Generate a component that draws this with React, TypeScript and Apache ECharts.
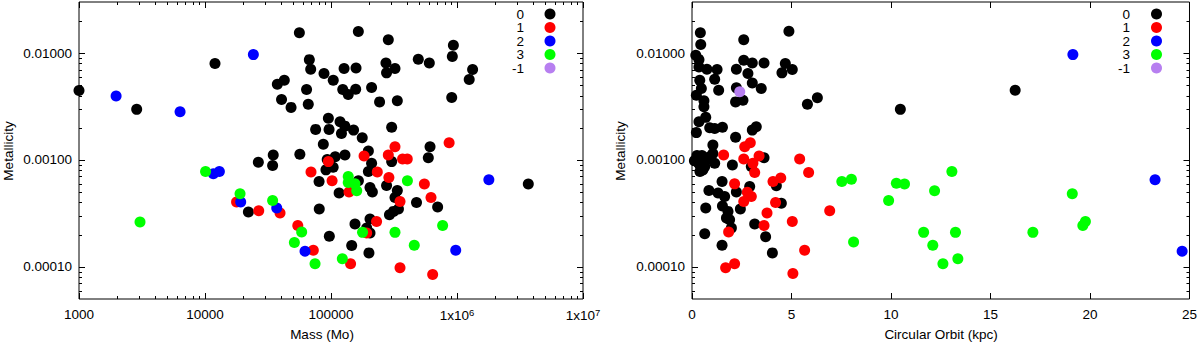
import React, { useEffect, useRef } from "react";
import * as echarts from "echarts";

// ---- classes ----
const classNames = ["0", "1", "2", "3", "-1"];
const classColors = ["#000000", "#ff0000", "#0000ff", "#00ff00", "#b77ff0"];

// ---- left panel: [mass (Mo), metallicity] ----
const leftClass0 = [
  [1000, 0.00446], [2870, 0.00297], [12000, 0.00796], [37500, 0.0051], [42600, 0.00557], [40500, 0.00368],
  [48200, 0.0031], [56100, 0.0155], [26500, 0.000953], [34800, 0.00111], [34400, 0.000885], [56600, 0.00113],
  [22100, 0.000326], [164800, 0.0159], [285000, 0.0133], [936000, 0.0118], [918000, 0.0093], [493000, 0.00873],
  [603000, 0.00807], [273000, 0.00807], [322000, 0.00715], [276000, 0.00652], [1330000, 0.007], [1250000, 0.00565],
  [908000, 0.00384], [67300, 0.00867], [69000, 0.00705], [88000, 0.00643], [104200, 0.00557], [127000, 0.00715],
  [158000, 0.00725], [124000, 0.00456], [137000, 0.00409], [157000, 0.00459], [210000, 0.00476], [243000, 0.00349],
  [336000, 0.00357], [64000, 0.00456], [66000, 0.00332], [95300, 0.00245], [75500, 0.00193], [96500, 0.00193],
  [118000, 0.00227], [129000, 0.00207], [121000, 0.00177], [151000, 0.0019], [177000, 0.00161], [303000, 0.00202],
  [86900, 0.0014], [611000, 0.00133], [592000, 0.00105], [198000, 0.00121], [210000, 0.00093], [198000, 0.00078],
  [108000, 0.00107], [129000, 0.00111], [93300, 0.00101], [104000, 0.000855], [91200, 0.000807], [303000, 0.000964],
  [165000, 0.000637], [80400, 0.000628], [204000, 0.000552], [213000, 0.0005], [276000, 0.000576], [116000, 0.00049],
  [336000, 0.000518], [322000, 0.000446], [477000, 0.0004], [702000, 0.000362], [343000, 0.000347], [291000, 0.000307],
  [80700, 0.000347], [204000, 0.00028], [155000, 0.000252], [204000, 0.000207], [97000, 0.000193], [146000, 0.000158],
  [200000, 0.000135], [3680000, 0.000594], [192000, 0.000231], [313000, 0.00033],
];
const leftClass1 = [
  [17800, 0.000403], [26700, 0.000335], [39400, 0.000318], [54500, 0.000243], [866000, 0.00145], [322000, 0.00133],
  [285000, 0.00111], [183000, 0.00109], [370000, 0.00102], [403000, 0.00102], [95300, 0.000964], [69400, 0.000769],
  [102000, 0.000637], [233000, 0.000769], [288000, 0.000685], [551000, 0.000594], [622000, 0.000446], [353000, 0.000408],
  [139000, 0.0005], [230000, 0.000266], [192000, 0.000207], [72400, 0.000143], [143000, 0.000107], [353000, 0.000098],
  [641000, 0.0000848],
];
const leftClass2 = [
  [1970, 0.00397], [6340, 0.00282], [24200, 0.00966], [11650, 0.000741], [13000, 0.000778], [19200, 0.000403],
  [37100, 0.000355], [62200, 0.00014], [1790000, 0.000652], [977000, 0.000143],
];
const leftClass3 = [
  [3050, 0.000262], [10100, 0.000778], [18970, 0.000482], [34400, 0.000418], [51200, 0.000169], [58500, 0.000212],
  [404000, 0.000637], [137000, 0.000698], [137000, 0.000614], [155000, 0.000597], [160000, 0.000514], [769000, 0.000244],
  [322000, 0.00021], [178000, 0.00021], [458000, 0.000159], [123000, 0.000119], [74700, 0.000107],
];
const leftClassM1: number[][] = [];

// ---- right panel: [circular orbit (kpc), metallicity] ----
const rightClass0 = [
  [0.42, 0.0155], [0.44, 0.012], [0.19, 0.00952], [0.35, 0.00867], [0.35, 0.00741], [0.75, 0.00705], [1.26, 0.007],
  [1.14, 0.00569], [1.34, 0.00449], [0.39, 0.00557], [0.47, 0.00466], [0.22, 0.00403], [0.6, 0.00357], [0.6, 0.00314],
  [0.69, 0.0025], [0.35, 0.00227], [0.22, 0.0018], [0.89, 0.002], [1.14, 0.00197], [1.53, 0.00202], [2.6, 0.0133],
  [2.23, 0.00705], [2.6, 0.00855], [3.03, 0.00807], [3.62, 0.00807], [2.81, 0.00643], [3.03, 0.00525], [3.48, 0.00466],
  [2.23, 0.00472], [2.19, 0.00349], [2.56, 0.00362], [4.87, 0.016], [4.69, 0.00796], [5.04, 0.007], [4.52, 0.00652],
  [5.8, 0.00332], [6.3, 0.00381], [3.23, 0.00204], [3.03, 0.0019], [2.19, 0.00163], [1.05, 0.00138], [0.35, 0.00107],
  [0.39, 0.000897], [0.55, 0.000807], [0.72, 0.001], [0.89, 0.00107], [1.05, 0.00115], [1.14, 0.00093], [0.64, 0.00087],
  [0.12, 0.00098], [0.25, 0.0011], [0.5, 0.0011], [0.4, 0.00078], [0.3, 0.00095],
  [2.03, 0.000897], [3.62, 0.00105], [2.98, 0.000867], [1.51, 0.000628], [2.9, 0.000564], [4.24, 0.000573],
  [0.85, 0.000518], [1.31, 0.00049], [1.64, 0.000455], [2.23, 0.0005], [4.49, 0.000394], [0.69, 0.000355],
  [1.53, 0.00037], [1.81, 0.00033], [1.73, 0.000286], [1.89, 0.000276], [2.43, 0.000347], [1.98, 0.000231],
  [3.15, 0.000252], [0.64, 0.000204], [3.7, 0.000191], [1.51, 0.000159], [4.04, 0.000135], [10.47, 0.00297],
  [16.24, 0.00449],
];
const rightClass1 = [
  [1.59, 0.00111], [2.65, 0.00133], [2.93, 0.00145], [2.6, 0.00102], [3.06, 0.00093], [3.37, 0.00109], [3.15, 0.000764],
  [2.14, 0.000597], [4.07, 0.000628], [4.46, 0.000676], [5.41, 0.00102], [5.86, 0.000764], [2.78, 0.000497],
  [2.98, 0.000455], [2.6, 0.000408], [4.2, 0.0004], [3.77, 0.000318], [3.62, 0.000243], [5.04, 0.000266],
  [6.92, 0.000335], [1.84, 0.000212], [5.66, 0.000143], [1.69, 0.000098], [2.14, 0.000107], [5.07, 0.0000865],
];
const rightClass2 = [[19.14, 0.00966], [23.27, 0.000652], [24.63, 0.00014]];
const rightClass3 = [
  [7.53, 0.000628], [8.01, 0.00066], [8.12, 0.000171], [9.88, 0.000418], [10.27, 0.000605], [10.68, 0.000594],
  [12.19, 0.000514], [13.06, 0.000778], [11.64, 0.00021], [13.24, 0.00021], [12.1, 0.000159], [12.61, 0.000107],
  [13.36, 0.000119], [17.13, 0.00021], [19.11, 0.000482], [19.77, 0.000266], [19.64, 0.000244],
];
const rightClassM1 = [[2.4, 0.00434]];

const leftData = [leftClass0, leftClass1, leftClass2, leftClass3, leftClassM1];
const rightData = [rightClass0, rightClass1, rightClass2, rightClass3, rightClassM1];

// ---- axes ----
const massRange = [1000, 1e7];
const metalRange = [5e-5, 0.03];
const orbitRange = [0, 25];
const orbitStep = 5;
const massDecades = [1000, 10000, 100000, 1e6, 1e7];
const metalDecades = [1e-5, 1e-4, 1e-3, 1e-2, 1e-1];
const minorMultipliers = [2, 3, 4, 5, 6, 7, 8, 9];

const FONT = "'Liberation Sans', Arial, Helvetica, sans-serif";

function logTicks(decades: number[], lo: number, hi: number) {
  const out: number[][] = [];
  decades.forEach((d) => {
    if (d >= lo && d <= hi) out.push([d, 1]);
    minorMultipliers.forEach((m) => {
      const v = d * m;
      if (v > lo && v < hi) out.push([v, 0]);
    });
  });
  return out;
}

export default function App() {
  const ref = useRef<HTMLDivElement>(null);
  useEffect(() => {
    if (!ref.current) return;
    const chart = echarts.init(ref.current, null, { renderer: "svg" });

    const metalTicks = logTicks(metalDecades, metalRange[0], metalRange[1]);
    const massTicks = logTicks(massDecades, massRange[0], massRange[1]);

    const yTickRender = (params: any, api: any) => {
      const p = api.coord([api.value(0), api.value(1)]);
      const cs = params.coordSys;
      const len = api.value(2) ? 6 : 3;
      const y = Math.round(p[1]) + 0.5;
      return {
        type: "group",
        children: [
          { type: "line", shape: { x1: cs.x, y1: y, x2: cs.x + len, y2: y }, style: { stroke: "#000", lineWidth: 1 } },
          {
            type: "line",
            shape: { x1: cs.x + cs.width, y1: y, x2: cs.x + cs.width - len, y2: y },
            style: { stroke: "#000", lineWidth: 1 },
          },
        ],
      };
    };
    const xTickRender = (params: any, api: any) => {
      const p = api.coord([api.value(0), api.value(1)]);
      const cs = params.coordSys;
      const len = api.value(2) ? 6 : 3;
      const x = Math.round(p[0]) + 0.5;
      return {
        type: "group",
        children: [
          {
            type: "line",
            shape: { x1: x, y1: cs.y + cs.height, x2: x, y2: cs.y + cs.height - len },
            style: { stroke: "#000", lineWidth: 1 },
          },
          { type: "line", shape: { x1: x, y1: cs.y, x2: x, y2: cs.y + len }, style: { stroke: "#000", lineWidth: 1 } },
        ],
      };
    };

    const metalLabel = (v: number) => {
      const l = Math.log10(v);
      if (Math.abs(l - Math.round(l)) > 1e-6) return "";
      return Math.pow(10, Math.round(l)).toFixed(5);
    };
    const massLabel = (v: number) => {
      const l = Math.log10(v);
      const e = Math.round(l);
      if (Math.abs(l - e) > 1e-6) return "";
      if (e <= 5) return String(Math.round(Math.pow(10, e)));
      return "{n|1x10}{s|" + e + "}";
    };

    const labelStyle = { color: "#000", fontSize: 13.5, fontFamily: FONT };

    const series: any[] = [];
    classNames.forEach((name, i) => {
      series.push({
        type: "scatter",
        name,
        xAxisIndex: 0,
        yAxisIndex: 0,
        data: leftData[i],
        symbol: "circle",
        symbolSize: 11,
        itemStyle: { color: classColors[i], opacity: 1 },
        z: 3 + i,
        silent: true,
      });
    });
    classNames.forEach((name, i) => {
      series.push({
        type: "scatter",
        name,
        xAxisIndex: 1,
        yAxisIndex: 1,
        data: rightData[i],
        symbol: "circle",
        symbolSize: 11,
        itemStyle: { color: classColors[i], opacity: 1 },
        z: 3 + i,
        silent: true,
      });
    });
    series.push({
      type: "custom",
      xAxisIndex: 0,
      yAxisIndex: 0,
      data: metalTicks.map((t) => [massRange[0], t[0], t[1]]),
      renderItem: yTickRender,
      silent: true,
      clip: false,
      z: 10,
    });
    series.push({
      type: "custom",
      xAxisIndex: 0,
      yAxisIndex: 0,
      data: massTicks.map((t) => [t[0], metalRange[0], t[1]]),
      renderItem: xTickRender,
      silent: true,
      clip: false,
      z: 10,
    });
    series.push({
      type: "custom",
      xAxisIndex: 1,
      yAxisIndex: 1,
      data: metalTicks.map((t) => [orbitRange[0], t[0], t[1]]),
      renderItem: yTickRender,
      silent: true,
      clip: false,
      z: 10,
    });

    const legendRows = [14, 27.5, 41, 54.5, 68];
    const graphics: any[] = [];
    const addLegend = (textRight: number, cx: number) => {
      classNames.forEach((name, i) => {
        graphics.push({
          type: "text",
          x: textRight,
          y: legendRows[i],
          style: { text: name, align: "right", verticalAlign: "middle", fill: "#000", font: "13.5px " + FONT },
        });
        graphics.push({
          type: "circle",
          shape: { cx, cy: legendRows[i], r: 5.5 },
          style: { fill: classColors[i] },
        });
      });
    };
    addLegend(524, 550);
    addLegend(1130, 1156.5);
    graphics.push({
      type: "text",
      x: 8,
      y: 151,
      rotation: Math.PI / 2,
      style: { text: "Metallicity", align: "center", verticalAlign: "middle", fill: "#000", font: "13.5px " + FONT },
    });
    graphics.push({
      type: "text",
      x: 620,
      y: 151,
      rotation: Math.PI / 2,
      style: { text: "Metallicity", align: "center", verticalAlign: "middle", fill: "#000", font: "13.5px " + FONT },
    });
    graphics.push({
      type: "text",
      x: 322,
      y: 334,
      style: { text: "Mass (Mo)", align: "center", verticalAlign: "middle", fill: "#000", font: "13.5px " + FONT },
    });
    graphics.push({
      type: "text",
      x: 941,
      y: 334,
      style: {
        text: "Circular Orbit (kpc)",
        align: "center",
        verticalAlign: "middle",
        fill: "#000",
        font: "13.5px " + FONT,
      },
    });

    chart.setOption({
      animation: false,
      backgroundColor: "#fff",
      grid: [
        { left: 79, top: 2, width: 504, height: 297, show: true, borderColor: "#000", borderWidth: 1, backgroundColor: "transparent" },
        { left: 692, top: 2, width: 498, height: 297, show: true, borderColor: "#000", borderWidth: 1, backgroundColor: "transparent" },
      ],
      xAxis: [
        {
          type: "log",
          logBase: 10,
          gridIndex: 0,
          min: massRange[0],
          max: massRange[1],
          axisLine: { show: false },
          axisTick: { show: false },
          splitLine: { show: false },
          axisLabel: {
            ...labelStyle,
            margin: 8,
            formatter: massLabel,
            rich: {
              n: { ...labelStyle, lineHeight: 16 },
              s: { color: "#000", fontSize: 9.5, fontFamily: FONT, verticalAlign: "top", lineHeight: 10 },
            },
          },
        },
        {
          type: "value",
          gridIndex: 1,
          min: orbitRange[0],
          max: orbitRange[1],
          interval: orbitStep,
          axisLine: { show: false },
          axisTick: { show: true, inside: true, length: 6, lineStyle: { color: "#000", width: 1 } },
          splitLine: { show: false },
          axisLabel: { ...labelStyle, margin: 8 },
        },
        {
          type: "value",
          gridIndex: 1,
          position: "top",
          min: orbitRange[0],
          max: orbitRange[1],
          interval: orbitStep,
          axisLine: { show: false },
          axisTick: { show: true, inside: true, length: 6, lineStyle: { color: "#000", width: 1 } },
          splitLine: { show: false },
          axisLabel: { show: false },
        },
      ],
      yAxis: [
        {
          type: "log",
          logBase: 10,
          gridIndex: 0,
          min: metalRange[0],
          max: metalRange[1],
          axisLine: { show: false },
          axisTick: { show: false },
          splitLine: { show: false },
          axisLabel: { ...labelStyle, margin: 7, formatter: metalLabel },
        },
        {
          type: "log",
          logBase: 10,
          gridIndex: 1,
          min: metalRange[0],
          max: metalRange[1],
          axisLine: { show: false },
          axisTick: { show: false },
          splitLine: { show: false },
          axisLabel: { ...labelStyle, margin: 7, formatter: metalLabel },
        },
      ],
      series,
      graphic: graphics,
    });

    return () => chart.dispose();
  }, []);

  return <div ref={ref} style={{ position: "fixed", left: 0, top: 0, width: 1200, height: 343 }} />;
}
